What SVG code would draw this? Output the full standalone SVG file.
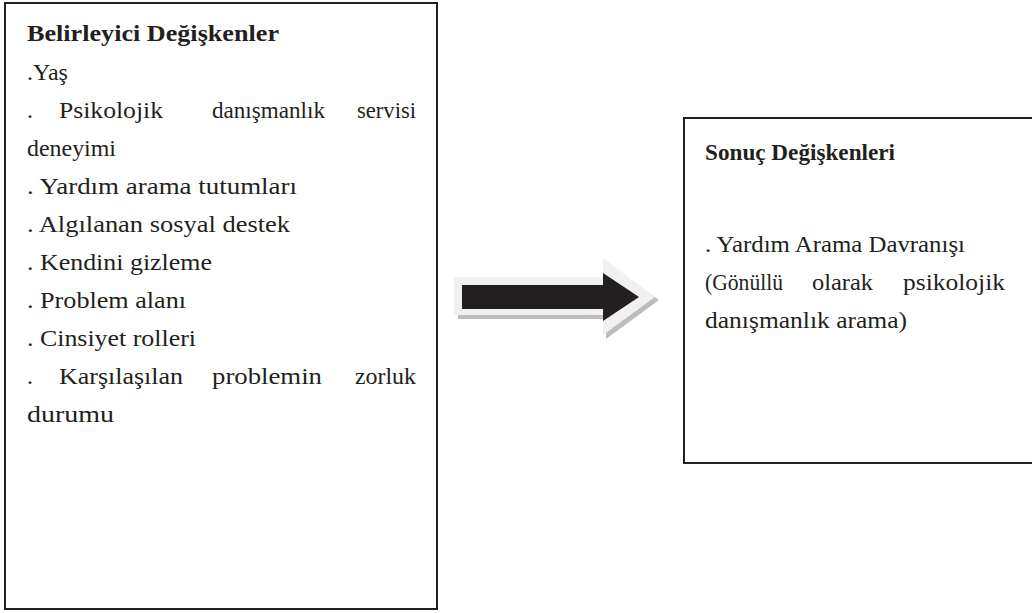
<svg xmlns="http://www.w3.org/2000/svg" width="1032" height="613" viewBox="0 0 1032 613">
<style>
.box{fill:#fff;stroke:#231f20;stroke-width:2}
.t{font-family:"Liberation Serif","Times New Roman",serif;font-size:24px;fill:#231f20}
.b{font-weight:bold}
</style>
<rect width="1032" height="613" fill="#fff"/>
<g id="connectors">
<polygon points="458,281 606,281 606,262 659,300 606,339 606,319 458,319" fill="#bdbdbf"/>
<polygon points="454,277 603,277 603,258 655,297 603,335 603,315 454,315" fill="#f0f1f0"/>
<polygon points="462,285 603,285 603,273 639,297 603,321 603,309 462,309" fill="#231f20"/>
</g>
<g id="node-belirleyici">
<rect class="box" x="5" y="3" width="432" height="606"/>
<text class="t b" x="27" y="41" textLength="252" lengthAdjust="spacingAndGlyphs">Belirleyici Değişkenler</text>
<text class="t" x="27" y="80">.Yaş</text>
<text class="t" y="118"><tspan x="27">.</tspan><tspan x="59" textLength="104" lengthAdjust="spacingAndGlyphs">Psikolojik</tspan><tspan x="212" textLength="113" lengthAdjust="spacingAndGlyphs">danışmanlık</tspan><tspan x="357" textLength="59" lengthAdjust="spacingAndGlyphs">servisi</tspan></text>
<text class="t" x="27" y="156" textLength="89" lengthAdjust="spacingAndGlyphs">deneyimi</text>
<text class="t" x="27" y="194" textLength="270" lengthAdjust="spacingAndGlyphs">. Yardım arama tutumları</text>
<text class="t" x="27" y="232" textLength="263" lengthAdjust="spacingAndGlyphs">. Algılanan sosyal destek</text>
<text class="t" x="27" y="270" textLength="185" lengthAdjust="spacingAndGlyphs">. Kendini gizleme</text>
<text class="t" x="27" y="308" textLength="159" lengthAdjust="spacingAndGlyphs">. Problem alanı</text>
<text class="t" x="27" y="346" textLength="169" lengthAdjust="spacingAndGlyphs">. Cinsiyet rolleri</text>
<text class="t" y="384"><tspan x="27">.</tspan><tspan x="59" textLength="124" lengthAdjust="spacingAndGlyphs">Karşılaşılan</tspan><tspan x="212" textLength="110" lengthAdjust="spacingAndGlyphs">problemin</tspan><tspan x="355" textLength="61" lengthAdjust="spacingAndGlyphs">zorluk</tspan></text>
<text class="t" x="27" y="422" textLength="87" lengthAdjust="spacingAndGlyphs">durumu</text>
</g>
<g id="node-sonuc">
<rect class="box" x="684" y="118" width="360" height="345"/>
<text class="t b" x="705" y="160" textLength="190" lengthAdjust="spacingAndGlyphs">Sonuç Değişkenleri</text>
<text class="t" x="705" y="252" textLength="260" lengthAdjust="spacingAndGlyphs">. Yardım Arama Davranışı</text>
<text class="t" y="290"><tspan x="705" textLength="78" lengthAdjust="spacingAndGlyphs">(Gönüllü</tspan><tspan x="812" textLength="61" lengthAdjust="spacingAndGlyphs">olarak</tspan><tspan x="903" textLength="102" lengthAdjust="spacingAndGlyphs">psikolojik</tspan></text>
<text class="t" x="705" y="328" textLength="202" lengthAdjust="spacingAndGlyphs">danışmanlık arama)</text>
</g>
</svg>
